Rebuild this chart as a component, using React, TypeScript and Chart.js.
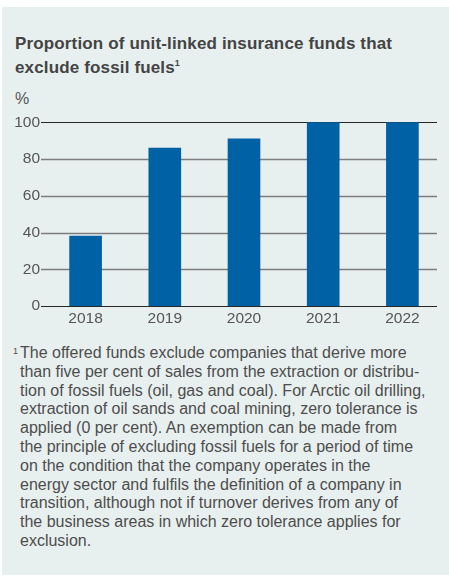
import React, { useEffect, useRef } from "react";
import { Chart, registerables } from "chart.js";

Chart.register(...registerables);

const categories = ["2018", "2019", "2020", "2021", "2022"];
const values = [38, 86, 91, 100, 100];
const yMin = 0;
const yMax = 100;
const yStep = 20;

const titleLines = ["Proportion of unit-linked insurance funds that", "exclude fossil fuels"];
const unitLabel = "%";
const footnoteMark = "1";
const footnoteLines = [
  "The offered funds exclude companies that derive more",
  "than five per cent of sales from the extraction or distribu-",
  "tion of fossil fuels (oil, gas and coal). For Arctic oil drilling,",
  "extraction of oil sands and coal mining, zero tolerance is",
  "applied (0 per cent). An exemption can be made from",
  "the principle of excluding fossil fuels for a period of time",
  "on the condition that the company operates in the",
  "energy sector and fulfils the definition of a company in",
  "transition, although not if turnover derives from any of",
  "the business areas in which zero tolerance applies for",
  "exclusion.",
];

const BAR_COLOR = "#0062a5";
const TEXT_COLOR = "#555555";

const gridPlugin = {
  id: "customGrid",
  beforeDatasetsDraw(chart: any) {
    const { ctx, chartArea, scales } = chart;
    const y = scales.y;
    ctx.save();
    y.ticks.forEach((t: any) => {
      const py = Math.round(y.getPixelForValue(t.value)) + 0.5;
      const edge = t.value === yMin || t.value === yMax;
      ctx.strokeStyle = edge ? "#262626" : "#7d7d7d";
      ctx.lineWidth = edge ? 1.2 : 1.6;
      ctx.beginPath();
      ctx.moveTo(chartArea.left - 5, py);
      ctx.lineTo(chartArea.right - 5, py);
      ctx.stroke();
    });
    ctx.restore();
  },
};

function BarChart() {
  const ref = useRef<HTMLCanvasElement | null>(null);
  useEffect(() => {
    if (!ref.current) return;
    const chart = new Chart(ref.current, {
      type: "bar",
      data: {
        labels: categories,
        datasets: [
          {
            data: values,
            backgroundColor: BAR_COLOR,
            borderWidth: 0,
            barThickness: 32,
          },
        ],
      },
      options: {
        animation: false,
        responsive: false,
        maintainAspectRatio: false,
        layout: { padding: { top: 10, right: 7, left: 0, bottom: 0 } },
        plugins: { legend: { display: false }, tooltip: { enabled: false } },
        scales: {
          x: {
            grid: { display: false, drawTicks: false },
            border: { display: false },
            ticks: {
              color: TEXT_COLOR,
              font: { family: "Liberation Sans", size: 15.5 },
              padding: 3,
            },
            afterFit: (s: any) => {
              s.height = 30;
            },
          },
          y: {
            min: yMin,
            max: yMax,
            grid: { display: false, drawTicks: false },
            border: { display: false },
            ticks: {
              stepSize: yStep,
              color: TEXT_COLOR,
              font: { family: "Liberation Sans", size: 15.5 },
              padding: 6,
            },
            afterFit: (s: any) => {
              s.width = 44;
            },
          },
        },
      },
      plugins: [gridPlugin],
    });
    return () => chart.destroy();
  }, []);
  return (
    <canvas
      ref={ref}
      width={447}
      height={229}
      style={{ position: "absolute", left: 0, top: 100, width: 447, height: 229 }}
    />
  );
}

export default function App() {
  return (
    <div
      style={{
        position: "absolute",
        left: 2,
        top: 7,
        width: 447,
        height: 568,
        background: "#e8f0ef",
        fontFamily: "'Liberation Sans', Arial, sans-serif",
      }}
    >
      <div
        style={{
          position: "absolute",
          left: 13,
          top: 25,
          fontSize: 17,
          lineHeight: "24px",
          fontWeight: 700,
          letterSpacing: "0.15px",
          color: "#444444",
          whiteSpace: "nowrap",
        }}
      >
        <div>{titleLines[0]}</div>
        <div>
          {titleLines[1]}
          <span style={{ fontSize: 9, position: "relative", top: -7 }}>1</span>
        </div>
      </div>
      <div
        style={{
          position: "absolute",
          left: 13,
          top: 83,
          fontSize: 16,
          lineHeight: "18px",
          color: TEXT_COLOR,
        }}
      >
        {unitLabel}
      </div>
      <BarChart />
      <div
        style={{
          position: "absolute",
          left: 18,
          top: 337,
          fontSize: 16,
          lineHeight: "18.8px",
          color: "#4d4d4d",
          whiteSpace: "nowrap",
        }}
      >
        <span style={{ position: "absolute", left: -7, top: -2, fontSize: 9 }}>{footnoteMark}</span>
        {footnoteLines.map((l, i) => (
          <div key={i}>{l}</div>
        ))}
      </div>
    </div>
  );
}
